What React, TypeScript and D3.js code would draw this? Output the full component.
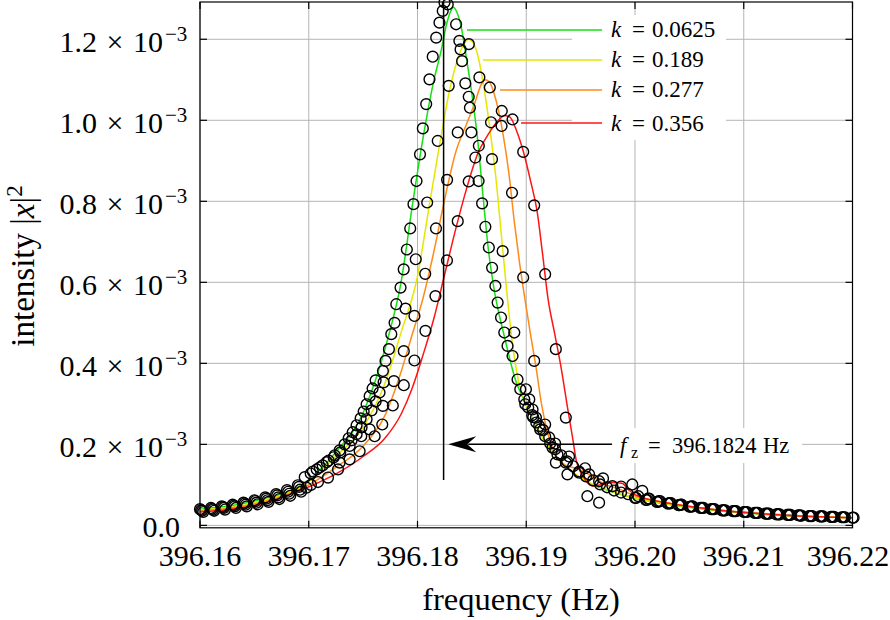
import React from 'react';
import * as d3 from 'd3';

// Resonance sweeps |x|^2 vs drive frequency for four coupling values k.
// Intensities are stored in units of 1e-3 (the axis prints "x 10^-3").

type Pt = [number, number];

const xTicks = [396.16, 396.17, 396.18, 396.19, 396.2, 396.21, 396.22];
const yTicks = [0, 0.2, 0.4, 0.6, 0.8, 1.0, 1.2];

const kLabels = ['0.0625', '0.189', '0.277', '0.356'];
const kColors = ['#14e014', '#e6e600', '#ff8a1a', '#ff1414'];

// fitted curves
const fit0625: Pt[] = [
  [396.16, 0.040], [396.165, 0.060], [396.17, 0.112], [396.1725, 0.181], [396.175, 0.278],
  [396.1765, 0.389], [396.1775, 0.484], [396.1785, 0.602], [396.1795, 0.785], [396.1805, 0.955],
  [396.1815, 1.098], [396.1822, 1.175], [396.1827, 1.240], [396.183, 1.266], [396.1833, 1.279],
  [396.1836, 1.268], [396.184, 1.233], [396.1845, 1.153], [396.185, 1.065], [396.1855, 0.960],
  [396.186, 0.820], [396.1865, 0.685], [396.187, 0.590], [396.188, 0.465], [396.189, 0.360],
  [396.19, 0.298], [396.191, 0.240], [396.1925, 0.178], [396.194, 0.137], [396.196, 0.102],
  [396.198, 0.082], [396.2, 0.067], [396.203, 0.052], [396.207, 0.038], [396.212, 0.027],
  [396.217, 0.021], [396.22, 0.019],
];
const fit189: Pt[] = [
  [396.16, 0.038], [396.165, 0.056], [396.17, 0.108], [396.1725, 0.171], [396.175, 0.242],
  [396.177, 0.350], [396.1785, 0.477], [396.18, 0.615], [396.181, 0.776], [396.182, 0.935],
  [396.183, 1.080], [396.1838, 1.160], [396.1843, 1.190], [396.1847, 1.200], [396.1851, 1.192],
  [396.1855, 1.165], [396.1862, 1.065], [396.1868, 0.950], [396.1872, 0.860], [396.1877, 0.720],
  [396.1882, 0.580], [396.1887, 0.455], [396.1893, 0.355], [396.19, 0.298], [396.191, 0.240],
  [396.1925, 0.178], [396.194, 0.138], [396.196, 0.103], [396.198, 0.083], [396.2, 0.068],
  [396.203, 0.053], [396.207, 0.039], [396.212, 0.028], [396.217, 0.021], [396.22, 0.019],
];
const fit277: Pt[] = [
  [396.16, 0.036], [396.165, 0.053], [396.17, 0.100], [396.1725, 0.143], [396.175, 0.196],
  [396.177, 0.271], [396.1785, 0.380], [396.1795, 0.470], [396.1805, 0.560], [396.1815, 0.675],
  [396.1825, 0.805], [396.1835, 0.920], [396.1845, 0.990], [396.1853, 1.045], [396.1858, 1.085],
  [396.1862, 1.100], [396.1866, 1.095], [396.187, 1.070], [396.1874, 1.030], [396.1879, 0.960],
  [396.1884, 0.870], [396.1889, 0.750], [396.1894, 0.645], [396.1899, 0.555], [396.1904, 0.470],
  [396.1909, 0.390], [396.1914, 0.300], [396.192, 0.225], [396.1926, 0.178], [396.1935, 0.150],
  [396.1947, 0.140], [396.196, 0.122], [396.1972, 0.102], [396.1985, 0.090], [396.2, 0.073],
  [396.203, 0.055], [396.207, 0.040], [396.212, 0.028], [396.217, 0.021], [396.22, 0.019],
];
const fit356: Pt[] = [
  [396.16, 0.033], [396.165, 0.049], [396.17, 0.095], [396.1725, 0.127], [396.175, 0.170],
  [396.177, 0.215], [396.1785, 0.275], [396.1795, 0.338], [396.1805, 0.420], [396.1815, 0.510],
  [396.1825, 0.620], [396.1835, 0.730], [396.1845, 0.830], [396.1855, 0.915], [396.1865, 0.965],
  [396.1875, 1.002], [396.188, 1.012], [396.1885, 1.008], [396.1891, 0.975], [396.1897, 0.926],
  [396.1904, 0.850], [396.191, 0.775], [396.1915, 0.670], [396.192, 0.560], [396.1926, 0.475],
  [396.1932, 0.390], [396.1938, 0.290], [396.1943, 0.210], [396.1946, 0.160], [396.1952, 0.122],
  [396.1961, 0.097], [396.197, 0.101], [396.1979, 0.106], [396.1988, 0.104], [396.1994, 0.088],
  [396.2, 0.076], [396.203, 0.055], [396.207, 0.040], [396.212, 0.028], [396.217, 0.021],
  [396.22, 0.019],
];
// faint extra trace only visible in the right tail
const fitTail: Pt[] = [
  [396.1995, 0.071], [396.203, 0.054], [396.207, 0.040], [396.212, 0.029], [396.215, 0.025],
];

// measured points
const obs0625: Pt[] = [
  [396.16, 0.040], [396.161, 0.043], [396.162, 0.047], [396.163, 0.051], [396.164, 0.056],
  [396.165, 0.062], [396.166, 0.069], [396.167, 0.077], [396.168, 0.087], [396.169, 0.099],
  [396.16963, 0.119], [396.17018, 0.128], [396.17073, 0.138], [396.17128, 0.148], [396.17183, 0.160],
  [396.17239, 0.173], [396.17284, 0.185], [396.1733, 0.200], [396.17367, 0.215], [396.17404, 0.230],
  [396.1744, 0.247], [396.17477, 0.264], [396.17505, 0.281], [396.17532, 0.299], [396.1756, 0.319],
  [396.17587, 0.338], [396.17615, 0.358], [396.17682, 0.381], [396.17706, 0.406], [396.17737, 0.435],
  [396.17759, 0.472], [396.17789, 0.500], [396.17805, 0.546], [396.17844, 0.587], [396.17873, 0.632],
  [396.17902, 0.681], [396.17933, 0.733], [396.17963, 0.793], [396.17991, 0.850], [396.18023, 0.916],
  [396.18049, 0.980], [396.1808, 1.040], [396.1811, 1.101], [396.1814, 1.157], [396.18172, 1.204],
  [396.18202, 1.241], [396.18232, 1.270], [396.18248, 1.291], [396.18278, 1.286], [396.18355, 1.237],
  [396.18385, 1.196], [396.18396, 1.175], [396.18471, 1.058], [396.18482, 1.031], [396.18495, 0.970],
  [396.18532, 0.908], [396.18562, 0.850], [396.18564, 0.937], [396.18594, 0.795], [396.18624, 0.737],
  [396.18656, 0.686], [396.18686, 0.636], [396.18716, 0.591], [396.18737, 0.550], [396.18768, 0.513],
  [396.18798, 0.476], [396.18828, 0.443], [396.18874, 0.418], [396.1892, 0.360], [396.18945, 0.336],
  [396.18982, 0.311], [396.19018, 0.291], [396.19055, 0.272], [396.19092, 0.254], [396.19128, 0.237],
  [396.19174, 0.220], [396.1922, 0.202], [396.19266, 0.188], [396.19321, 0.173], [396.19376, 0.158],
  [396.19431, 0.146], [396.19486, 0.133], [396.1955, 0.121], [396.19615, 0.111], [396.19679, 0.101],
  [396.19743, 0.094], [396.19807, 0.086], [396.19872, 0.081], [396.19936, 0.077],
  [396.2, 0.068], [396.201, 0.063], [396.202, 0.058], [396.203, 0.054], [396.204, 0.050],
  [396.205, 0.046], [396.206, 0.043], [396.207, 0.040], [396.208, 0.037], [396.209, 0.035],
  [396.21, 0.033], [396.211, 0.031], [396.212, 0.029], [396.213, 0.027], [396.214, 0.026],
  [396.215, 0.025], [396.216, 0.023], [396.217, 0.022], [396.218, 0.021], [396.219, 0.020],
  [396.22, 0.019],
];
const obs189: Pt[] = [
  [396.1601, 0.038], [396.1611, 0.041], [396.1621, 0.045], [396.1631, 0.049], [396.1641, 0.054],
  [396.1651, 0.060], [396.1661, 0.066], [396.1671, 0.074], [396.1681, 0.083], [396.1691, 0.095],
  [396.17037, 0.133], [396.17101, 0.143], [396.17165, 0.156], [396.17229, 0.168], [396.17284, 0.155],
  [396.1729, 0.180], [396.17376, 0.196], [396.17394, 0.210], [396.1744, 0.225], [396.17483, 0.220],
  [396.17486, 0.242], [396.17532, 0.262], [396.1756, 0.237], [396.17578, 0.284], [396.17615, 0.306],
  [396.17651, 0.328], [396.17688, 0.353], [396.1789, 0.535], [396.17984, 0.657], [396.18089, 0.797],
  [396.18186, 0.949], [396.18287, 1.085], [396.1841, 1.146], [396.1844, 1.091], [396.18472, 1.188],
  [396.18676, 0.995], [396.18685, 0.904], [396.18783, 0.677], [396.1889, 0.476], [396.18991, 0.299],
  [396.18997, 0.336], [396.19028, 0.311], [396.19058, 0.286], [396.19064, 0.267], [396.19089, 0.266],
  [396.19156, 0.235], [396.19266, 0.202], [396.19272, 0.155], [396.19394, 0.170], [396.19541, 0.141],
  [396.19706, 0.116], [396.19872, 0.096],
  [396.2001, 0.068], [396.2011, 0.063], [396.2021, 0.058], [396.2031, 0.054], [396.2041, 0.050],
  [396.2051, 0.046], [396.2061, 0.043], [396.2071, 0.040], [396.2081, 0.037], [396.2091, 0.035],
  [396.2101, 0.033], [396.2111, 0.031], [396.2121, 0.029], [396.2131, 0.028], [396.2141, 0.026],
  [396.2151, 0.025], [396.2161, 0.023], [396.2171, 0.022], [396.2181, 0.021], [396.2191, 0.020],
  [396.2201, 0.019],
];
const obs277: Pt[] = [
  [396.1602, 0.036], [396.1612, 0.039], [396.1622, 0.043], [396.1632, 0.047], [396.1642, 0.051],
  [396.1652, 0.056], [396.1662, 0.062], [396.1672, 0.069], [396.1682, 0.078], [396.1692, 0.088],
  [396.1702, 0.100], [396.17177, 0.118], [396.17269, 0.138], [396.17376, 0.163], [396.17468, 0.183],
  [396.17606, 0.220], [396.17676, 0.249], [396.17682, 0.295], [396.17783, 0.356], [396.17874, 0.430],
  [396.17972, 0.517], [396.18071, 0.621], [396.1817, 0.733], [396.18272, 0.853], [396.1837, 0.970],
  [396.18569, 1.106], [396.18665, 1.081], [396.18869, 0.821], [396.18972, 0.612], [396.19073, 0.406],
  [396.19119, 0.245], [396.19174, 0.249], [396.19211, 0.217], [396.19241, 0.192], [396.19287, 0.175],
  [396.19364, 0.155], [396.1967, 0.109], [396.20067, 0.085],
  [396.2012, 0.066], [396.2022, 0.060], [396.2032, 0.055], [396.2042, 0.051], [396.2052, 0.047],
  [396.2062, 0.043], [396.2072, 0.040], [396.2082, 0.037], [396.2092, 0.035], [396.2102, 0.033],
  [396.2112, 0.031], [396.2122, 0.029], [396.2132, 0.027], [396.2142, 0.026], [396.2152, 0.024],
  [396.2162, 0.023], [396.2172, 0.022], [396.2182, 0.021], [396.2192, 0.020],
];
const obs356: Pt[] = [
  [396.1603, 0.033], [396.1613, 0.036], [396.1623, 0.039], [396.1633, 0.043], [396.1643, 0.047],
  [396.1653, 0.052], [396.1663, 0.058], [396.1673, 0.065], [396.1683, 0.073], [396.1693, 0.083],
  [396.16979, 0.093], [396.17085, 0.107], [396.17773, 0.296], [396.17874, 0.346], [396.17972, 0.407],
  [396.18073, 0.480], [396.18165, 0.566], [396.18271, 0.654], [396.1837, 0.751], [396.18471, 0.849],
  [396.18773, 0.986], [396.18775, 1.023], [396.18874, 1.002], [396.18972, 0.922], [396.19073, 0.790],
  [396.19174, 0.620], [396.19272, 0.435], [396.19364, 0.266], [396.19379, 0.126], [396.19486, 0.130],
  [396.19562, 0.072], [396.19578, 0.126], [396.1967, 0.056], [396.19792, 0.097], [396.19975, 0.101],
  [396.2003, 0.072], [396.2013, 0.066], [396.2023, 0.060], [396.2033, 0.055], [396.2043, 0.051],
  [396.2053, 0.047], [396.2063, 0.043], [396.2073, 0.040], [396.2083, 0.037], [396.2093, 0.035],
  [396.2103, 0.033], [396.2113, 0.031], [396.2123, 0.029], [396.2133, 0.027], [396.2143, 0.026],
  [396.2153, 0.024], [396.2163, 0.023], [396.2173, 0.022], [396.2183, 0.021], [396.2193, 0.020],
];

const fits = [fit0625, fit189, fit277, fit356];
const observed = [obs0625, obs189, obs277, obs356];

// legend leaders: where each line leaves its curve and at which intensity it runs
const legendFrom = [396.18455, 396.18602, 396.18759, 396.18952];
const legendLevel = [1.223, 1.149, 1.075, 0.993];
const legendLineEnd = 396.19697;
const legendText = 396.1977;
const legendBox = { f0: 396.19421, f1: 396.20837, v0: 0.951, v1: 1.26 };

// f_z marker
const fz = 396.1824;
const fzLineBottom = 0.112;
const fzArrowLevel = 0.2;
const fzArrowTip = 396.18283;
const fzArrowTail = 396.19789;
const fzBox = { f0: 396.19789, f1: 396.21536, v0: 0.154, v1: 0.24 };

const SERIF = '"Liberation Serif", "Times New Roman", serif';

export default function App() {
  const x = d3.scaleLinear().domain([396.16, 396.22]).range([200, 852.5]);
  const y = d3.scaleLinear().domain([-0.006, 1.292]).range([527.8, 2]);
  const [x0, x1] = x.range();
  const [y0, y1] = y.range();

  const line = d3
    .line<Pt>()
    .x((d) => x(d[0]))
    .y((d) => y(d[1]))
    .curve(d3.curveMonotoneX);

  const fmt = d3.format('.1f');
  const tickLen = 7;

  const ay = y(fzArrowLevel);
  const tipX = x(fzArrowTip);
  const arrowHead = `M${tipX},${ay} L${tipX + 28},${ay - 8} L${tipX + 19},${ay} L${tipX + 28},${ay + 8} Z`;

  return (
    <svg
      width={890}
      height={620}
      style={{ position: 'absolute', left: 0, top: 0, background: '#fff' }}
      fontFamily={SERIF}
    >
      {/* grid */}
      <g stroke="#b4b4b4" strokeWidth={1}>
        {xTicks.map((t) => (
          <line key={`gx${t}`} x1={x(t)} x2={x(t)} y1={y0} y2={y1} />
        ))}
        {yTicks.map((t) => (
          <line key={`gy${t}`} x1={x0} x2={x1} y1={y(t)} y2={y(t)} />
        ))}
      </g>

      {/* white label backgrounds */}
      <rect
        x={x(legendBox.f0)}
        y={y(legendBox.v1)}
        width={x(legendBox.f1) - x(legendBox.f0)}
        height={y(legendBox.v0) - y(legendBox.v1)}
        fill="#fff"
      />
      <rect
        x={x(fzBox.f0)}
        y={y(fzBox.v1)}
        width={x(fzBox.f1) - x(fzBox.f0)}
        height={y(fzBox.v0) - y(fzBox.v1)}
        fill="#fff"
      />

      {/* fitted curves */}
      <path d={line(fitTail) ?? ''} fill="none" stroke="#3b3bb8" strokeWidth={1} />
      {fits.map((pts, i) => (
        <path key={`fit${i}`} d={line(pts) ?? ''} fill="none" stroke={kColors[i]} strokeWidth={1.5} />
      ))}

      {/* measured points */}
      <g fill="none" stroke="#000" strokeWidth={1.4}>
        {observed.map((pts, i) =>
          pts.map((d, j) => <circle key={`o${i}-${j}`} cx={x(d[0])} cy={y(d[1])} r={5.4} />),
        )}
      </g>

      {/* legend leaders and labels */}
      {kLabels.map((k, i) => {
        const ly = y(legendLevel[i]);
        const tx = x(legendText);
        return (
          <g key={`lg${k}`}>
            <line
              x1={x(legendFrom[i])}
              x2={x(legendLineEnd)}
              y1={ly}
              y2={ly}
              stroke={kColors[i]}
              strokeWidth={1.5}
            />
            <text y={ly + 7.5} fontSize={23} fill="#000">
              <tspan x={tx + 1} fontStyle="italic">k</tspan>
              <tspan x={tx + 22}>=</tspan>
              <tspan x={tx + 42}>{k}</tspan>
            </text>
          </g>
        );
      })}

      {/* f_z marker */}
      <line x1={x(fz)} x2={x(fz)} y1={y1} y2={y(fzLineBottom)} stroke="#000" strokeWidth={1.5} />
      <line x1={x(fzArrowTail)} x2={tipX + 20} y1={ay} y2={ay} stroke="#000" strokeWidth={1.5} />
      <path d={arrowHead} fill="#000" />
      <text y={ay + 9} fontSize={22.5} fill="#000">
        <tspan x={x(fzArrowTail) + 8} fontStyle="italic">f</tspan>
        <tspan x={x(fzArrowTail) + 19} dy={5} fontSize={16}>z</tspan>
        <tspan x={x(fzArrowTail) + 36} dy={-5}>=</tspan>
        <tspan x={x(fzArrowTail) + 60}>396.1824</tspan>
        <tspan x={x(fzArrowTail) + 151}>Hz</tspan>
      </text>

      {/* frame and ticks */}
      <rect x={x0} y={y1} width={x1 - x0} height={y0 - y1} fill="none" stroke="#000" strokeWidth={1.2} />
      <g stroke="#000" strokeWidth={1.2}>
        {xTicks.map((t) => (
          <g key={`tx${t}`}>
            <line x1={x(t)} x2={x(t)} y1={y0} y2={y0 - tickLen} />
            <line x1={x(t)} x2={x(t)} y1={y1} y2={y1 + tickLen} />
          </g>
        ))}
        {yTicks.map((t) => (
          <g key={`ty${t}`}>
            <line x1={x0} x2={x0 + tickLen} y1={y(t)} y2={y(t)} />
            <line x1={x1} x2={x1 - tickLen} y1={y(t)} y2={y(t)} />
          </g>
        ))}
      </g>

      {/* tick labels */}
      <g fontSize={30} fill="#000">
        {xTicks.map((t) => (
          <text key={`lx${t}`} x={Math.min(x(t), 848)} y={566} textAnchor="middle">
            {d3.format('.2f')(t)}
          </text>
        ))}
        {yTicks.map((t) => {
          const yy = y(t);
          if (t === 0) {
            return (
              <text key="ly0" x={x0 - 20} y={yy + 12} textAnchor="end">
                {fmt(t)}
              </text>
            );
          }
          return (
            <g key={`ly${t}`}>
              <text x={x0 - 103} y={yy + 13} textAnchor="end">{fmt(t)}</text>
              <text x={x0 - 85} y={yy + 13} textAnchor="middle">×</text>
              <text x={x0 - 37} y={yy + 13} textAnchor="end">10</text>
              <text x={x0 - 35} y={yy + 2} fontSize={21} textAnchor="start">−3</text>
            </g>
          );
        })}
      </g>

      {/* axis titles */}
      <text x={521} y={610} fontSize={32.5} textAnchor="middle" fill="#000">
        frequency (Hz)
      </text>
      <text transform="translate(34,266) rotate(-90)" fontSize={33} textAnchor="middle" fill="#000">
        intensity |<tspan fontStyle="italic">x</tspan>|<tspan dy={-12} fontSize={23}>2</tspan>
      </text>
    </svg>
  );
}
